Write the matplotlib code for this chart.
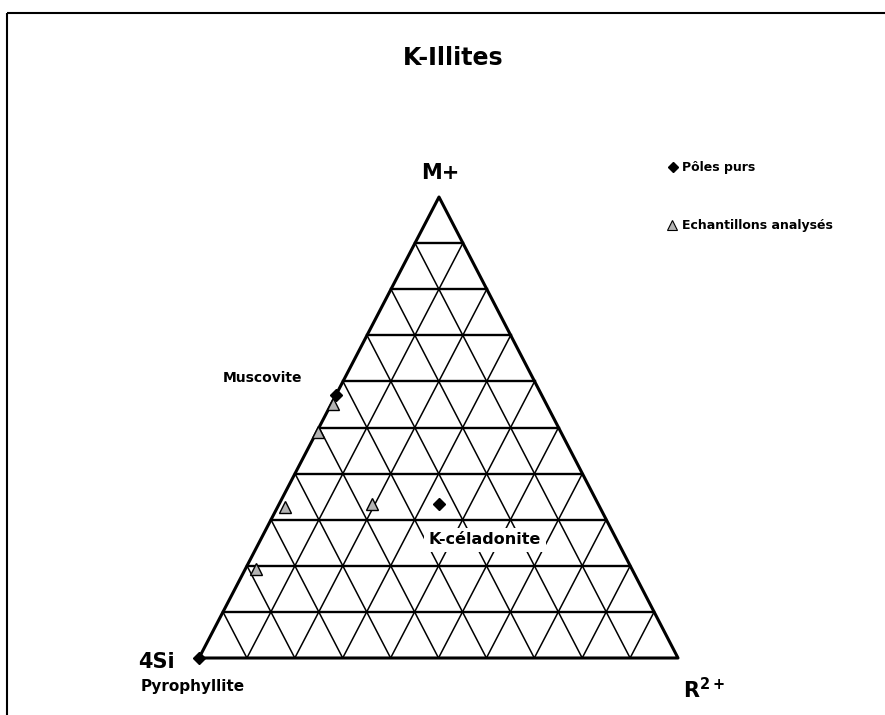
import matplotlib
matplotlib.use("Agg")
import matplotlib.pyplot as plt
from matplotlib.patches import Rectangle
import numpy as np

# ternary compositions (4Si, R2+, M+), fractions summing to 1
pole_names = ["Muscovite", "K-céladonite", "Pyrophyllite"]
pole_si = [0.429, 0.333, 1.0]
pole_r = [0.0, 0.334, 0.0]
pole_m = [0.571, 0.333, 0.0]

sample_m = [0.551, 0.490, 0.328, 0.334, 0.193]
sample_r = [0.003, 0.003, 0.015, 0.193, 0.022]
sample_si = [1 - m - r for m, r in zip(sample_m, sample_r)]

n_div = 10

# triangle corners in figure pixels (layout only)
A = (199, 658)   # 4Si
B = (678, 658)   # R2+
C = (439, 197)   # M+


def to_xy(si, r, m):
    si, r, m = np.asarray(si), np.asarray(r), np.asarray(m)
    x = si * A[0] + r * B[0] + m * C[0]
    y = si * A[1] + r * B[1] + m * C[1]
    return x, y


fig = plt.figure(figsize=(8.85, 7.15), dpi=100)
ax = fig.add_axes([0, 0, 1, 1])
ax.set_xlim(0, 885)
ax.set_ylim(715, 0)
ax.axis("off")

ax.add_patch(Rectangle((7, 13), 900, 720, fill=False, lw=1.5, ec="black"))

# grid
for k in range(1, n_div):
    f = k / n_div
    # constant M+ (horizontal)
    p1 = to_xy(1 - f, 0, f)
    p2 = to_xy(0, 1 - f, f)
    ax.plot([p1[0], p2[0]], [p1[1], p2[1]], color="black", lw=1.7)
    # constant R2+
    p1 = to_xy(1 - f, f, 0)
    p2 = to_xy(0, f, 1 - f)
    ax.plot([p1[0], p2[0]], [p1[1], p2[1]], color="black", lw=1.1)
    # constant 4Si
    p1 = to_xy(f, 1 - f, 0)
    p2 = to_xy(f, 0, 1 - f)
    ax.plot([p1[0], p2[0]], [p1[1], p2[1]], color="black", lw=1.1)

ax.plot([A[0], B[0], C[0], A[0]], [A[1], B[1], C[1], A[1]], color="black", lw=2.2)

px, py = to_xy(pole_si, pole_r, pole_m)
ax.plot(px, py, "D", color="black", ms=6.5, zorder=5)
sx, sy = to_xy(sample_si, sample_r, sample_m)
ax.plot(sx, sy, "^", mfc="#b4b4b4", mec="black", mew=1.0, ms=9, zorder=5)

fam = "DejaVu Sans"
ax.text(453, 58, "K-Illites", fontsize=17, fontweight="bold", ha="center", va="center", family=fam)
ax.text(440, 173, "M+", fontsize=15, fontweight="bold", ha="center", va="center", family=fam)
ax.text(156, 662, "4Si", fontsize=15, fontweight="bold", ha="center", va="center", family=fam)
ax.text(193, 687, "Pyrophyllite", fontsize=11, fontweight="bold", ha="center", va="center", family=fam)
ax.text(262, 378, "Muscovite", fontsize=10, fontweight="bold", ha="center", va="center", family=fam)
ax.text(485, 540, "K-céladonite", fontsize=11.5, fontweight="bold", ha="center", va="center",
        family=fam, zorder=6,
        bbox=dict(boxstyle="square,pad=0.3", fc="white", ec="none"))
ax.text(683, 690, r"R$^{\mathbf{2+}}$", fontsize=15, fontweight="bold", ha="left", va="center", family=fam)

# legend
ax.plot([673], [167], "D", color="black", ms=5.5)
ax.text(682, 167, "Pôles purs", fontsize=9, fontweight="bold", ha="left", va="center", family=fam)
ax.plot([672], [225], "^", mfc="#b4b4b4", mec="black", mew=0.8, ms=7.5)
ax.text(682, 225, "Echantillons analysés", fontsize=9, fontweight="bold", ha="left", va="center", family=fam)

fig.savefig("out.png", dpi=100)
